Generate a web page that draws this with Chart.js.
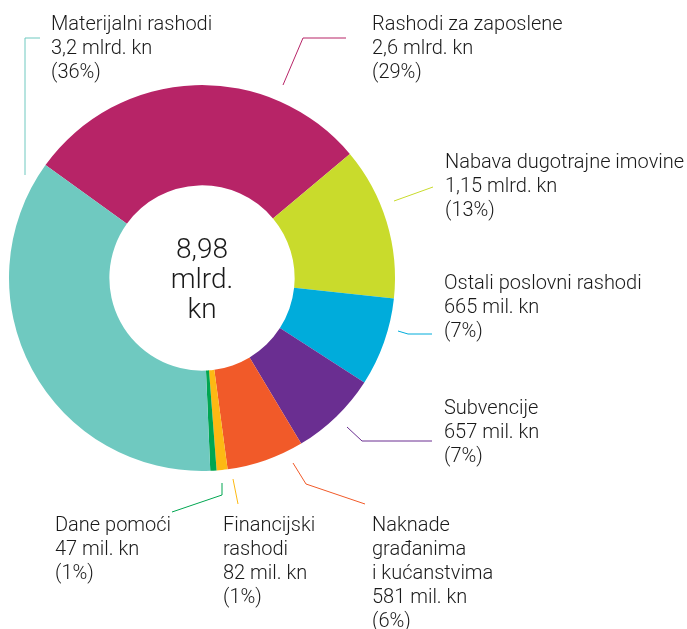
<!DOCTYPE html>
<html>
<head>
<meta charset="utf-8">
<script src="https://cdn.jsdelivr.net/npm/chart.js@4"></script>
<style>
  html, body { margin: 0; padding: 0; background: #fff; }
  canvas { display: block; }
</style>
</head>
<body>
<canvas id="rashodiChart" width="687" height="629"></canvas>
<script>
/* Struktura rashoda — doughnut with callout labels */
var categories = [
    ['Rashodi za zaposlene'],
    ['Nabava dugotrajne imovine'],
    ['Ostali poslovni rashodi'],
    ['Subvencije'],
    ['Naknade', 'građanima', 'i kućanstvima'],
    ['Financijski', 'rashodi'],
    ['Dane pomoći'],
    ['Materijalni rashodi']
];
var values = [2.6, 1.15, 0.665, 0.657, 0.581, 0.082, 0.047, 3.2];   // mlrd. kn
var amounts = ['2,6 mlrd. kn', '1,15 mlrd. kn', '665 mil. kn', '657 mil. kn', '581 mil. kn', '82 mil. kn', '47 mil. kn', '3,2 mlrd. kn'];
var shares = ['29%', '13%', '7%', '7%', '6%', '1%', '1%', '36%'];
var totalLines = ['8,98', 'mlrd.', 'kn'];

var colors = ['#B72467', '#C9DB2C', '#00ACDB', '#6A2E91', '#F15A29', '#FDB913', '#00A651', '#6FC9C0'];

// callout layout: text anchor (x, first baseline) and leader polyline
var callouts = [
    { x: 372, y: 30,  line: [[283, 85], [303, 38], [346, 38]] },
    { x: 445, y: 168, line: [[394, 201], [433, 187]] },
    { x: 444, y: 289, line: [[398, 331], [408, 334], [432, 334]] },
    { x: 444, y: 414, line: [[347, 427], [362, 441], [432, 441]] },
    { x: 372, y: 531, line: [[293, 463], [306, 484], [365, 504]] },
    { x: 223, y: 531, line: [[233, 479], [238, 504]] },
    { x: 55,  y: 531, line: [[222, 483], [222, 495], [172, 512]] },
    { x: 51,  y: 30,  line: [[40, 38], [25, 38], [25, 175]] }
];

var FONT = '"Roboto", "Liberation Sans", sans-serif';

var calloutPlugin = {
    id: 'callouts',
    afterDraw: function(chart) {
        var ctx = chart.ctx;
        ctx.save();
        callouts.forEach(function(c, i) {
            ctx.strokeStyle = colors[i];
            ctx.lineWidth = 1;
            ctx.beginPath();
            c.line.forEach(function(p, j) {
                if (j === 0) ctx.moveTo(p[0], p[1]); else ctx.lineTo(p[0], p[1]);
            });
            ctx.stroke();

            var lines = categories[i].concat([amounts[i], '(' + shares[i] + ')']);
            ctx.fillStyle = '#1a1a1a';
            ctx.font = '300 20px ' + FONT;
            ctx.textAlign = 'left';
            ctx.textBaseline = 'alphabetic';
            lines.forEach(function(t, k) { ctx.fillText(t, c.x, c.y + k * 24); });
        });

        var arc = chart.getDatasetMeta(0).data[0];
        ctx.font = '300 28px ' + FONT;
        ctx.textAlign = 'center';
        totalLines.forEach(function(t, k) { ctx.fillText(t, arc.x, 258 + k * 30); });
        ctx.restore();
    }
};

new Chart(document.getElementById('rashodiChart').getContext('2d'), {
    type: 'doughnut',
    data: {
        labels: categories.map(function(c) { return c.join(' '); }),
        datasets: [{ data: values, backgroundColor: colors, borderWidth: 0 }]
    },
    options: {
        responsive: false,
        animation: false,
        rotation: -54.2,
        cutout: '48%',
        layout: { padding: { left: 9, top: 85, right: 292, bottom: 158 } },
        plugins: { legend: { display: false }, tooltip: { enabled: false } }
    },
    plugins: [calloutPlugin]
});
</script>
</body>
</html>
